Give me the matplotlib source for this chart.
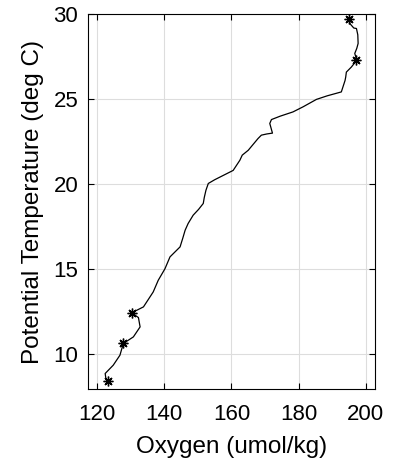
import matplotlib
matplotlib.use("Agg")
import matplotlib.pyplot as plt

plt.rcParams['font.family'] = ['Liberation Sans', 'DejaVu Sans']

oxygen = [194.9, 195.3, 196.4, 197.2, 197.6, 197.7, 197.3, 196.7, 197.0, 197.2,
          196.5, 195.7, 194.2, 194.0, 193.8, 192.7, 188.5, 185.3, 181.3, 178.3,
          174.5, 171.9, 171.4, 172.2, 170.5, 168.9, 167.9, 166.3, 165.0, 163.2,
          162.5, 160.5, 157.5, 155.0, 153.1, 152.4, 151.9, 151.6, 150.2, 148.6,
          147.1, 146.2, 145.5, 144.7, 141.7, 140.2, 138.2, 136.7, 133.8, 130.3,
          132.3, 132.8, 130.8, 127.8, 126.8, 124.8, 122.4, 122.6, 123.1]
temperature = [29.76, 29.45, 29.2, 29.17, 28.8, 28.29, 28.0, 27.7, 27.5, 27.3,
               27.1, 26.9, 26.6, 26.3, 26.1, 25.43, 25.2, 24.99, 24.55, 24.25,
               24.0, 23.8, 23.57, 23.0, 22.95, 22.88, 22.68, 22.3, 21.99, 21.7,
               21.4, 20.8, 20.5, 20.25, 20.03, 19.63, 19.2, 18.85, 18.5, 18.16,
               17.67, 17.27, 16.8, 16.29, 15.7, 15.0, 14.32, 13.63, 12.75, 12.4,
               12.12, 11.57, 10.98, 10.59, 9.9, 9.31, 8.82, 8.55, 8.38]

star_oxygen = [194.9, 197.2, 130.3, 127.8, 123.1]
star_temperature = [29.76, 27.3, 12.4, 10.6, 8.38]

xticks = [120, 140, 160, 180, 200]
yticks = [10, 15, 20, 25, 30]

fig = plt.figure(figsize=(3.93, 4.66), dpi=100)
ax = fig.add_axes([0.224, 0.165, 0.730, 0.804])

ax.plot(oxygen, temperature, color='black', linewidth=0.9)
ax.plot(star_oxygen, star_temperature, linestyle='none', marker=(8, 2, 0),
        color='black', markersize=7, markeredgewidth=1.0)

ax.set_xlim(117.3, 202.7)
ax.set_ylim(7.9, 30.0)
ax.set_xticks(xticks)
ax.set_yticks(yticks)
ax.grid(True, color='#dddddd', linewidth=0.8)
ax.set_axisbelow(True)
ax.tick_params(direction='in', top=True, right=True, length=4, width=0.8,
               labelsize=16, colors='black')
ax.tick_params(axis='x', pad=10.5)
ax.tick_params(axis='y', pad=7)
for s in ax.spines.values():
    s.set_linewidth(0.8)
    s.set_color('black')

ax.set_xlabel('Oxygen (umol/kg)', fontsize=17.5, labelpad=8.5)
ax.set_ylabel('Potential Temperature (deg C)', fontsize=17.5, labelpad=6.5)

fig.savefig('out.png', dpi=100)
